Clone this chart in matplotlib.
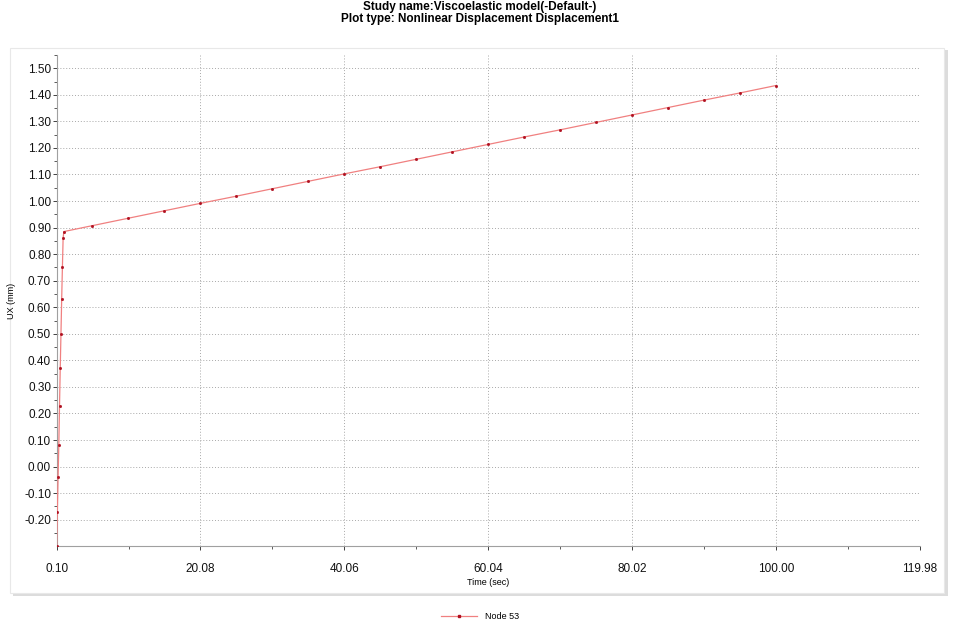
import matplotlib
matplotlib.use("Agg")
from matplotlib import pyplot as plt
from matplotlib.patches import Rectangle

plt.rcParams["font.family"] = ["Liberation Sans", "DejaVu Sans"]

TITLE_LINES = [
    "Study name:Viscoelastic model(-Default-)",
    "Plot type: Nonlinear Displacement Displacement1",
]
SERIES_NAME = "Node 53"

# time (sec) and UX (mm)
time_sec = [0.1, 0.2, 0.3, 0.4, 0.5, 0.6, 0.7, 0.8, 0.9, 1.0, 1.1,
            5, 10, 15, 20, 25, 30, 35, 40, 45, 50,
            55, 60, 65, 70, 75, 80, 85, 90, 95, 100]
ux_mm = [-0.30, -0.17, -0.04, 0.08, 0.23, 0.37, 0.50, 0.63, 0.75, 0.86, 0.885,
         0.907, 0.935, 0.963, 0.991, 1.018, 1.046, 1.074, 1.102, 1.129, 1.157,
         1.185, 1.213, 1.241, 1.268, 1.296, 1.324, 1.352, 1.380, 1.407, 1.435]

x_ticks = [0.10, 20.08, 40.06, 60.04, 80.02, 100.00, 119.98]
y_ticks = [-0.20, -0.10, 0.00, 0.10, 0.20, 0.30, 0.40, 0.50, 0.60, 0.70,
           0.80, 0.90, 1.00, 1.10, 1.20, 1.30, 1.40, 1.50]


def main() -> None:
    fig = plt.figure(figsize=(9.6, 6.25), dpi=100)

    # outer panel frame with a light shadow
    fig.patches.append(Rectangle((0.014, 0.046), 0.973, 0.874, transform=fig.transFigure,
                                 facecolor="#dcdcdc", edgecolor="none", zorder=-20))
    fig.patches.append(Rectangle((0.010, 0.051), 0.973, 0.873, transform=fig.transFigure,
                                 facecolor="white", edgecolor="#e8e8e8", linewidth=0.8,
                                 zorder=-19))

    ax = fig.add_axes([0.059, 0.126, 0.899, 0.786])
    ax.set_facecolor("none")

    ax.plot(time_sec, ux_mm, color="#f08080", linewidth=0.9,
            marker="s", markersize=1.0, markerfacecolor="#b01020",
            markeredgecolor="#b01020", label=SERIES_NAME, zorder=3)

    ax.set_xlim(0.1, 119.98)
    ax.set_ylim(-0.30, 1.512)
    ax.set_xticks(x_ticks)
    ax.set_xticklabels([f"{v:.2f}" for v in x_ticks])
    ax.set_yticks(y_ticks)
    ax.set_yticklabels([f"{v:.2f}" for v in y_ticks])
    minor_x = [(a + b) / 2 for a, b in zip(x_ticks[:-1], x_ticks[1:])]
    ax.set_xticks(minor_x, minor=True)
    minor_y = [v + 0.05 for v in y_ticks] + [-0.25]
    ax.set_yticks(minor_y, minor=True)

    ax.grid(True, which="major", color="#a8a8a8", linestyle=(0, (1, 2)), linewidth=0.7)
    for side in ("top", "right"):
        ax.spines[side].set_visible(False)
    for side in ("left", "bottom"):
        ax.spines[side].set_color("#a0a0a0")
        ax.spines[side].set_linewidth(0.8)

    ax.tick_params(axis="both", which="major", length=3, width=0.7, color="#404040",
                   labelsize=8.5, labelcolor="#111111")
    ax.tick_params(axis="both", which="minor", length=2, width=0.6, color="#404040")
    ax.tick_params(axis="x", pad=9)
    ax.tick_params(axis="y", pad=1)

    ax.set_xlabel("Time (sec)", fontsize=6.5, labelpad=2)
    ax.set_ylabel("UX (mm)", fontsize=6.5, labelpad=6)

    fig.text(0.5, 0.989, TITLE_LINES[0], ha="center", va="center", fontsize=8.5,
             fontweight="semibold")
    fig.text(0.5, 0.970, TITLE_LINES[1], ha="center", va="center", fontsize=8.5,
             fontweight="semibold")

    fig.legend(loc="center", bbox_to_anchor=(0.5, 0.013), frameon=False,
               fontsize=6.5, handlelength=4, markerscale=1.5)

    fig.savefig("out.png", dpi=100)


if __name__ == "__main__":
    main()
